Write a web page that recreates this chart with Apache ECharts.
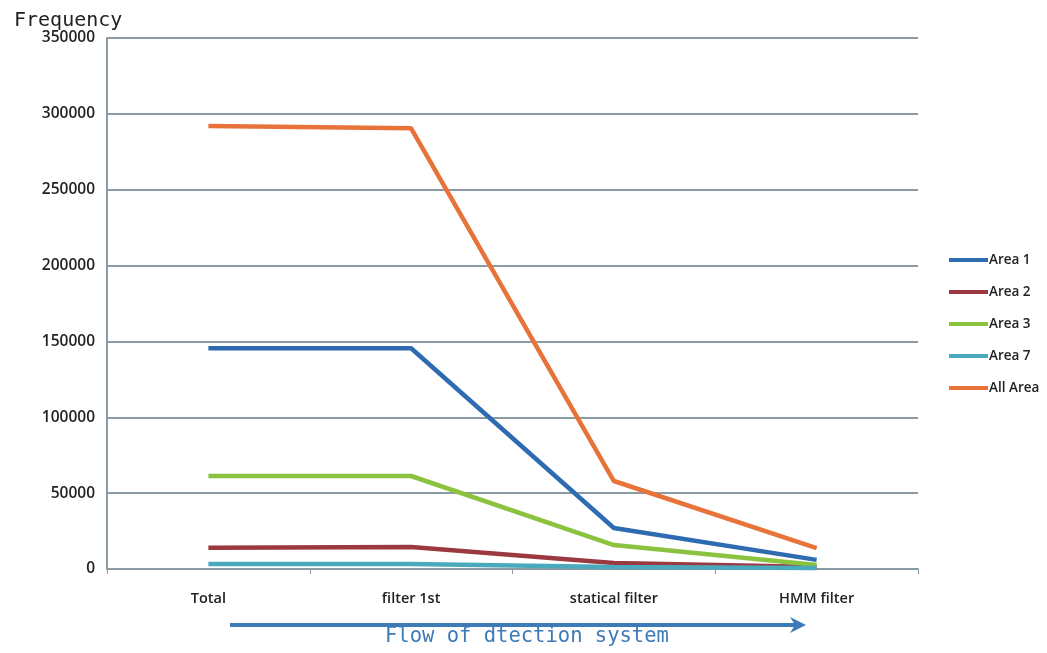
<!DOCTYPE html>
<html><head><meta charset="utf-8">
<script src="https://cdn.jsdelivr.net/npm/echarts@6/dist/echarts.min.js"></script>
<style>html,body{margin:0;padding:0;background:#fff}#c{width:1047px;height:653px}</style>
</head><body><div id="c"></div>
<script>
const categories = ['Total', 'filter 1st', 'statical filter', 'HMM filter'];
const area1 = [145500, 145500, 27000, 6000];
const area2 = [14000, 14500, 4000, 1300];
const area3 = [61300, 61300, 15800, 2600];
const area7 = [3300, 3300, 1300, 700];
const allArea = [292000, 290500, 58000, 13800];
const seriesNames = ['Area 1', 'Area 2', 'Area 3', 'Area 7', 'All Area'];
const seriesData = [area1, area2, area3, area7, allArea];
const colors = ['#2f6bb1', '#9a3a40', '#8bc23f', '#4ba9bd', '#e8733a'];

const chart = echarts.init(document.getElementById('c'));
const labelFont = '"Open Sans", Lato, sans-serif';
chart.setOption({
  animation: false,
  backgroundColor: '#fff',
  grid: { left: 107, right: 129, top: 38, bottom: 84 },
  title: {
    text: 'Frequency', left: 9, top: 6,
    textStyle: { fontFamily: '"DejaVu Sans Mono", monospace', fontSize: 20, fontWeight: 'normal', color: '#222' }
  },
  legend: {
    orient: 'vertical', left: 944, top: 248,
    icon: 'rect', itemWidth: 39, itemHeight: 4, itemGap: 18,
    data: seriesNames,
    textStyle: { fontFamily: labelFont, fontSize: 13.5, fontWeight: 600, color: '#222', padding: [0, 0, 0, -4] }
  },
  xAxis: {
    type: 'category', data: categories, boundaryGap: true,
    axisLine: { lineStyle: { color: '#8a9ba3', width: 2 } },
    axisTick: { show: true, length: 5, lineStyle: { color: '#8a9ba3' } },
    axisLabel: { margin: 22, fontFamily: labelFont, fontSize: 14.5, fontWeight: 600, color: '#222' }
  },
  yAxis: {
    type: 'value', min: 0, max: 350000, interval: 50000,
    axisLine: { show: true, lineStyle: { color: '#8a9ba3', width: 2 } },
    axisTick: { show: false },
    axisLabel: { margin: 12, fontFamily: labelFont, fontSize: 15.5, fontWeight: 600, color: '#222',
      formatter: v => String(v) },
    splitLine: { lineStyle: { color: '#8a9ba3', width: 2 } }
  },
  series: seriesNames.map((n, i) => ({
    name: n, type: 'line', data: seriesData[i],
    symbol: 'none', color: colors[i],
    lineStyle: { width: 4.5, color: colors[i] }
  })),
  graphic: [
    { type: 'line', shape: { x1: 230, y1: 625, x2: 798, y2: 625 }, style: { stroke: '#3d7ab8', lineWidth: 4 } },
    { type: 'polygon', shape: { points: [[790, 617], [806, 625], [790, 633], [795, 625]] }, style: { fill: '#3d7ab8' } },
    { type: 'text', left: 385, top: 626,
      style: { text: 'Flow of dtection system', fill: '#3d7ab8', fontFamily: '"DejaVu Sans Mono", monospace', fontSize: 20.5 } }
  ]
});
</script></body></html>
